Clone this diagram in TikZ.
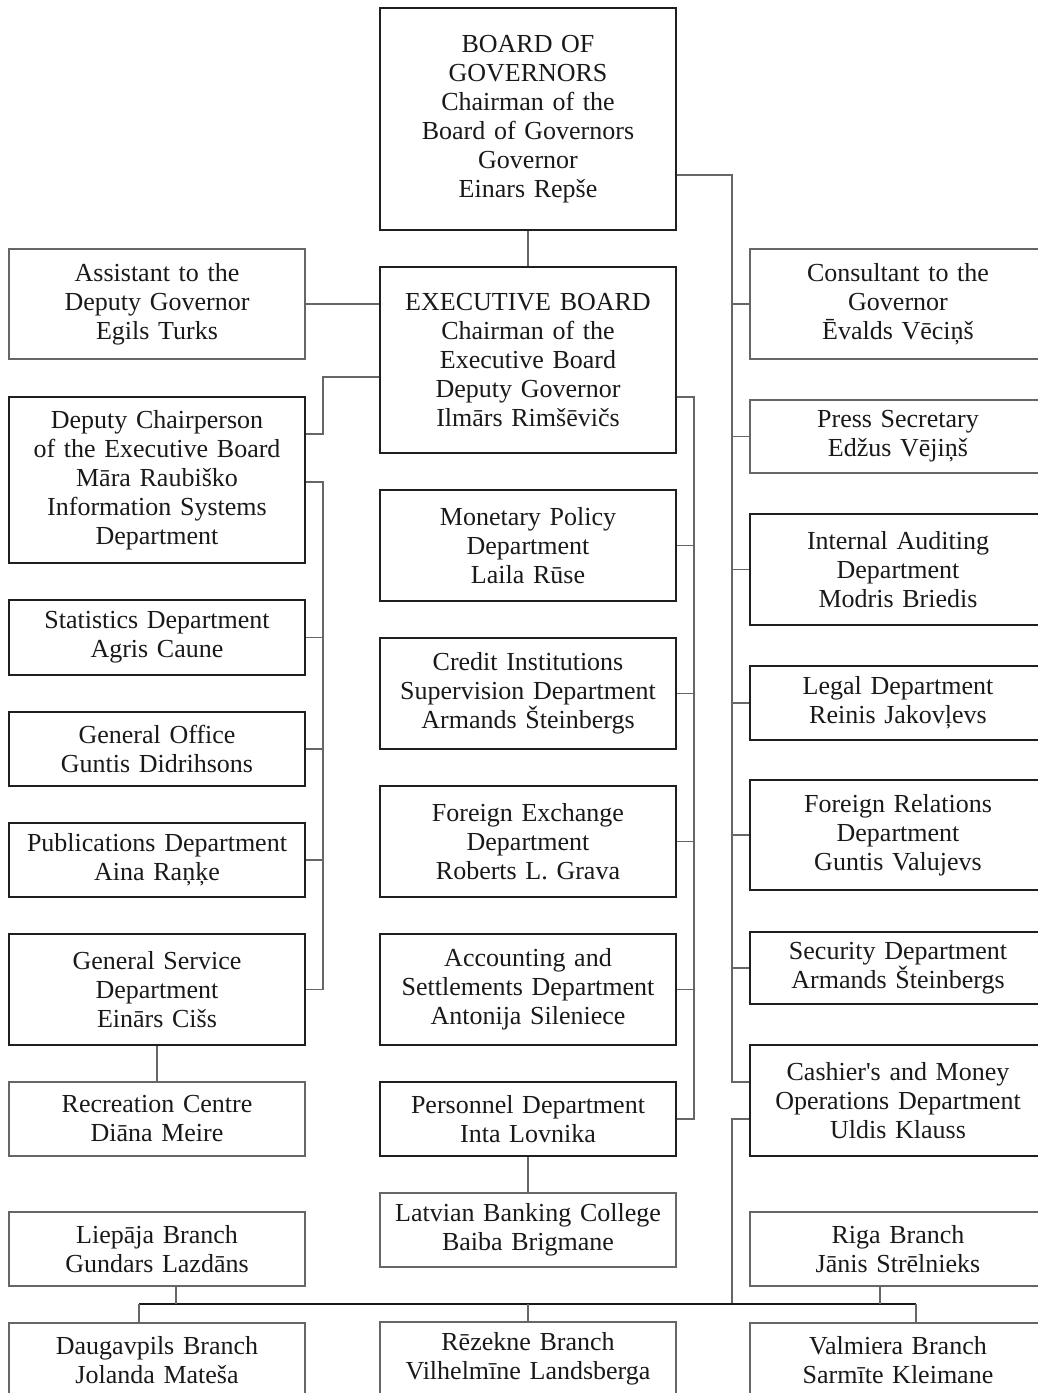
\documentclass[tikz,border=0pt]{standalone}
\usepackage{fontspec}
\setmainfont{Liberation Serif}[Ligatures=TeXOff]
\begin{document}
\begin{tikzpicture}[x=1pt,y=-1pt,
  box/.style={draw, rectangle, inner sep=0pt, minimum width=296pt, text width=290pt,
    align=center, font=\fontsize{26}{29}\selectfont, text=black!90},
  thickbox/.style={box, draw=black!88, line width=2.2pt},
  thinbox/.style={box, draw=black!60, line width=1.1pt},
  conn/.style={draw=black!60, line width=1.1pt},
  busline/.style={draw=black!90, line width=1.1pt}]
\useasboundingbox (0,0) rectangle (1038,1393);
\clip (0,0) rectangle (1038,1393);
% centre column
\node[thickbox, minimum height=222pt] (bog) at (528,119) {BOARD OF\\GOVERNORS\\Chairman of the\\Board of Governors\\Governor\\Einars Repše};
\node[thickbox, minimum height=186pt] (exec) at (528,360) {EXECUTIVE BOARD\\Chairman of the\\Executive Board\\Deputy Governor\\Ilmārs Rimšēvičs};
\node[thickbox, minimum height=111pt] (mon) at (528,545.5) {Monetary Policy\\Department\\Laila Rūse};
\node[thickbox, minimum height=111pt] (cred) at (528,693.5) {Credit Institutions\\Supervision Department\\Armands Šteinbergs};
\node[thickbox, minimum height=111pt] (fx) at (528,841.5) {Foreign Exchange\\Department\\Roberts L. Grava};
\node[thickbox, minimum height=111pt] (acc) at (528,989.5) {Accounting and\\Settlements Department\\Antonija Sileniece};
\node[thickbox, minimum height=74pt] (pers) at (528,1119) {Personnel Department\\Inta Lovnika};
\node[thinbox, minimum height=74pt] (lbc) at (528,1230) {Latvian Banking College\\Baiba Brigmane};
\node[thinbox, minimum height=74pt] (rez) at (528,1359) {Rēzekne Branch\\Vilhelmīne Landsberga};
% left column
\node[thinbox, minimum height=110pt] (asst) at (157,304) {Assistant to the\\Deputy Governor\\Egils Turks};
\node[thickbox, minimum height=166pt] (dep) at (157,480) {Deputy Chairperson\\of the Executive Board\\Māra Raubiško\\Information Systems\\Department};
\node[thickbox, minimum height=75pt] (stat) at (157,637.5) {Statistics Department\\Agris Caune};
\node[thickbox, minimum height=74pt] (gen) at (157,749) {General Office\\Guntis Didrihsons};
\node[thickbox, minimum height=74pt] (pub) at (157,860) {Publications Department\\Aina Raņķe};
\node[thickbox, minimum height=111pt] (gserv) at (157,989.5) {General Service\\Department\\Einārs Cišs};
\node[thinbox, minimum height=74pt] (rec) at (157,1119) {Recreation Centre\\Diāna Meire};
\node[thinbox, minimum height=74pt] (liep) at (157,1249) {Liepāja Branch\\Gundars Lazdāns};
\node[thinbox, minimum height=74pt] (daug) at (157,1360) {Daugavpils Branch\\Jolanda Mateša};
% right column
\node[thinbox, minimum height=110pt] (cons) at (898,304) {Consultant to the\\Governor\\Ēvalds Vēciņš};
\node[thinbox, minimum height=73pt] (press) at (898,436.5) {Press Secretary\\Edžus Vējiņš};
\node[thickbox, minimum height=111pt] (aud) at (898,569.5) {Internal Auditing\\Department\\Modris Briedis};
\node[thickbox, minimum height=74pt] (legal) at (898,703) {Legal Department\\Reinis Jakovļevs};
\node[thickbox, minimum height=110pt] (forrel) at (898,835) {Foreign Relations\\Department\\Guntis Valujevs};
\node[thickbox, minimum height=72pt] (sec) at (898,968) {Security Department\\Armands Šteinbergs};
\node[thickbox, minimum height=111pt] (cash) at (898,1100.5) {Cashier's and Money\\Operations Department\\Uldis Klauss};
\node[thinbox, minimum height=74pt] (riga) at (898,1249) {Riga Branch\\Jānis Strēlnieks};
\node[thinbox, minimum height=74pt] (valm) at (898,1360) {Valmiera Branch\\Sarmīte Kleimane};
% trunk coordinates
\coordinate (lt) at (323,0);
\coordinate (rit) at (694,0);
\coordinate (rt) at (732,0);
\coordinate (bus) at (0,1304);
\coordinate (bogA) at ([yshift=-56pt]bog.east);
\coordinate (exA) at ([yshift=-17pt]exec.west);
\coordinate (exB) at ([yshift=-37pt]exec.east);
\coordinate (depA) at ([yshift=46pt]dep.east);
\coordinate (depB) at ([yshift=-2pt]dep.east);
\coordinate (cashA) at ([yshift=18.5pt]cash.west);
\coordinate (cashB) at ([yshift=-18.5pt]cash.west);
\coordinate (daugA) at ([xshift=-18pt]daug.north);
\coordinate (valmA) at ([xshift=18pt]valm.north);
\coordinate (liepA) at ([xshift=19pt]liep.south);
\coordinate (rigaA) at ([xshift=-18pt]riga.south);
% connectors
\draw[conn] (bog.south) -- (exec.north);
\draw[conn] (exec.west |- asst.east) -- (asst.east);
\draw[conn] (exA) -| (depA -| lt) -- (depA);
\draw[conn] (depB) -| (gserv.east -| lt) -- (gserv.east);
\foreach \n in {stat,gen,pub} \draw[conn] (\n.east) -- (\n.east -| lt);
\draw[conn] (gserv.south) -- (rec.north);
\draw[conn] (exB) -| (pers.east -| rit) -- (pers.east);
\foreach \n in {mon,cred,fx,acc} \draw[conn] (\n.east) -- (\n.east -| rit);
\draw[conn] (pers.south) -- (lbc.north);
\draw[conn] (bogA) -| (cashA -| rt) -- (cashA);
\foreach \n in {cons,press,aud,legal,forrel,sec} \draw[conn] (\n.west) -- (\n.west -| rt);
\draw[conn] (cashB) -| (rt |- bus);
\draw[busline] (daugA |- bus) -- (valmA |- bus);
\draw[conn] (daugA) -- (daugA |- bus);
\draw[conn] (valmA) -- (valmA |- bus);
\draw[conn] (rez.north) -- (rez.north |- bus);
\draw[conn] (liepA) -- (liepA |- bus);
\draw[conn] (rigaA) -- (rigaA |- bus);
\end{tikzpicture}
\end{document}
